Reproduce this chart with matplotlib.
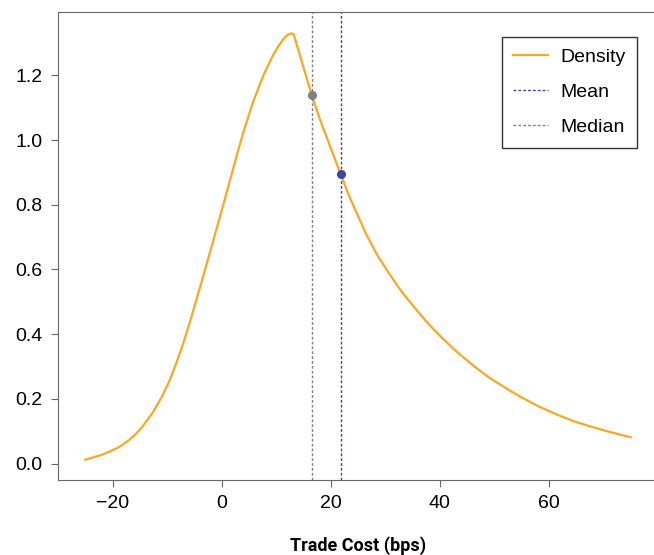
import matplotlib.pyplot as plt

# density curve values
cost_bps = [-25, -23.5, -22, -20.5, -18.7, -17, -16, -14.7, -12.6, -11, -9.5, -8.3, -7.1,
            -5.6, -3.7, -1.6, 0.55, 2.5, 3.9, 5.7, 7.6, 9.4, 10.4, 11.2, 12.0, 12.8, 13.2,
            16.5, 18, 21.8, 23.5, 26.5, 28.5, 30.8, 33, 35.7, 38, 40.3, 43, 46.1, 49,
            52.2, 55, 58.3, 61.5, 64.5, 67.5, 70.6, 75]
density = [0.012, 0.019, 0.027, 0.037, 0.052, 0.072, 0.087, 0.110, 0.158, 0.205, 0.258, 0.311, 0.368,
           0.450, 0.560, 0.685, 0.815, 0.936, 1.020, 1.115, 1.198, 1.262, 1.290, 1.310, 1.324, 1.330, 1.327,
           1.140, 1.065, 0.895, 0.822, 0.709, 0.645, 0.585, 0.531, 0.475, 0.430, 0.390, 0.347, 0.303, 0.266,
           0.232, 0.204, 0.175, 0.151, 0.131, 0.115, 0.100, 0.081]

mean_x, mean_y = 21.8, 0.895
median_x, median_y = 16.5, 1.140

orange = '#f9a825'
blue = '#3a46a0'
gray = '#808080'

plt.rcParams['font.family'] = ['Liberation Sans', 'DejaVu Sans']

fig = plt.figure(figsize=(6.54, 5.55), dpi=100)
ax = fig.add_axes([58 / 654, 75 / 555, 600 / 654, 468 / 555])

ax.plot(cost_bps, density, color=orange, lw=1.6, label='Density')
ax.axvline(mean_x, color=blue, lw=1, ls=(0, (2, 1.5)), label='Mean')
ax.axvline(median_x, color=gray, lw=1, ls=(0, (2, 1.5)), label='Median')
ax.plot([mean_x], [mean_y], 'o', color=blue, ms=5.5)
ax.plot([median_x], [median_y], 'o', color=gray, ms=5.5)

ax.set_xlim(-30, 80)
ax.set_ylim(-0.051, 1.396)
ax.set_xticks([-20, 0, 20, 40, 60])
ax.set_yticks([0.0, 0.2, 0.4, 0.6, 0.8, 1.0, 1.2])
ax.set_yticklabels(['0.0', '0.2', '0.4', '0.6', '0.8', '1.0', '1.2'])
ax.tick_params(labelsize=14, length=5, color='#666666', pad=6)
for s in ax.spines.values():
    s.set_color('#666666')

ax.set_xlabel('Trade Cost (bps)', fontsize=13, fontweight='bold',
              family=['Liberation Sans Narrow', 'Roboto', 'DejaVu Sans'], labelpad=17)

leg = ax.legend(loc='upper right', bbox_to_anchor=(0.965, 0.947), borderaxespad=0,
                fontsize=14, fancybox=False, edgecolor='#333333', framealpha=1,
                handlelength=1.8, handletextpad=0.6, borderpad=0.6, labelspacing=0.9)
leg.get_frame().set_linewidth(1)

fig.savefig('out.png', dpi=100)
